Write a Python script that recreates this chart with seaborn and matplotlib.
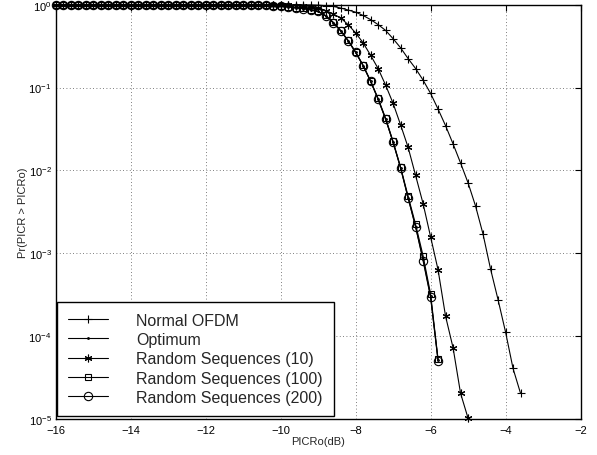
import matplotlib
matplotlib.use("Agg")
import matplotlib.pyplot as plt
import seaborn as sns
import numpy as np
import pandas as pd

# ---- data (log10 of probability) ----
x_normal = [-16.0, -15.8, -15.6, -15.4, -15.2, -15.0, -14.8, -14.6, -14.4, -14.2,
            -14.0, -13.8, -13.6, -13.4, -13.2, -13.0, -12.8, -12.6, -12.4, -12.2,
            -12.0, -11.8, -11.6, -11.4, -11.2, -11.0, -10.8, -10.6, -10.4, -10.2,
            -10.0, -9.8, -9.6, -9.4, -9.2, -9.0, -8.8, -8.6, -8.4, -8.2,
            -8.0, -7.8, -7.6, -7.4, -7.2, -7.0, -6.8, -6.6, -6.4, -6.2,
            -6.0, -5.8, -5.6, -5.4, -5.2, -5.0, -4.8, -4.6, -4.4, -4.2,
            -4.0, -3.8, -3.6]
logp_normal = [0, 0, 0, 0, 0, 0, 0, 0, 0, 0,
               0, 0, 0, 0, 0, 0, 0, 0, 0, 0,
               0, 0, 0, 0, 0, 0, 0, 0, 0, 0,
               0, 0, -0.001, -0.002, -0.003, -0.006, -0.012, -0.02, -0.04, -0.064,
               -0.09, -0.13, -0.18, -0.24, -0.31, -0.41, -0.52, -0.65, -0.77, -0.91,
               -1.07, -1.26, -1.46, -1.68, -1.91, -2.15, -2.43, -2.77, -3.19, -3.56,
               -3.95, -4.39, -4.69]

x_rand10 = x_normal[:56]
logp_rand10 = [0, 0, 0, 0, 0, 0, 0, 0, 0, 0,
               0, 0, 0, 0, 0, 0, 0, 0, 0, 0,
               0, 0, 0, 0, 0, 0, 0, -0.001, -0.002, -0.003,
               -0.005, -0.008, -0.012, -0.02, -0.03, -0.045, -0.07, -0.11, -0.16, -0.24,
               -0.34, -0.46, -0.61, -0.77, -0.97, -1.19, -1.45, -1.72, -2.06, -2.40,
               -2.80, -3.20, -3.76, -4.14, -4.69, -4.99]

x_rand100 = x_normal[:52]
logp_rand100 = [0, 0, 0, 0, 0, 0, 0, 0, 0, 0,
                0, 0, 0, 0, 0, 0, 0, 0, 0, 0,
                0, 0, 0, 0, -0.001, -0.002, -0.003, -0.005, -0.008, -0.012,
                -0.018, -0.025, -0.035, -0.045, -0.06, -0.08, -0.13, -0.21, -0.31, -0.43,
                -0.57, -0.73, -0.92, -1.13, -1.37, -1.65, -1.96, -2.31, -2.65, -3.03,
                -3.49, -4.28]

x_rand200 = x_normal[:52]
logp_rand200 = [0, 0, 0, 0, 0, 0, 0, 0, 0, 0,
                0, 0, 0, 0, 0, 0, 0, 0, 0, 0,
                0, 0, 0, 0, -0.001, -0.002, -0.003, -0.005, -0.008, -0.012,
                -0.018, -0.025, -0.036, -0.046, -0.062, -0.082, -0.135, -0.215, -0.315, -0.435,
                -0.575, -0.735, -0.925, -1.14, -1.38, -1.66, -1.97, -2.33, -2.68, -3.09,
                -3.53, -4.30]

x_opt = x_normal[:52]
logp_opt = [0, 0, 0, 0, 0, 0, 0, 0, 0, 0,
            0, 0, 0, 0, 0, 0, 0, 0, 0, 0,
            0, 0, 0, 0, -0.001, -0.002, -0.003, -0.005, -0.008, -0.012,
            -0.018, -0.025, -0.036, -0.046, -0.062, -0.082, -0.135, -0.215, -0.315, -0.435,
            -0.575, -0.735, -0.925, -1.14, -1.38, -1.66, -1.97, -2.33, -2.68, -3.07,
            -3.52, -4.29]

labels = ["Normal OFDM", "Optimum", "Random Sequences (10)",
          "Random Sequences (100)", "Random Sequences (200)"]
xticks = [-16, -14, -12, -10, -8, -6, -4, -2]

# ---- style ----
sns.set_style("white")
plt.rcParams["font.family"] = ["Liberation Sans", "DejaVu Sans"]

fig = plt.figure(figsize=(5.97, 4.56), dpi=100)
ax = fig.add_axes([0.0933, 0.0789, 0.8791, 0.9086])

asterisk = (6, 2, 0)
series = [
    (x_normal, logp_normal, "+", 6, labels[0]),
    (x_opt, logp_opt, ".", 2.5, labels[1]),
    (x_rand10, logp_rand10, asterisk, 5.5, labels[2]),
    (x_rand100, logp_rand100, "s", 4.8, labels[3]),
    (x_rand200, logp_rand200, "o", 6, labels[4]),
]

for xs, lp, mk, ms, lab in series:
    df = pd.DataFrame({"x": xs, "p": np.power(10.0, lp)})
    sns.lineplot(data=df, x="x", y="p", ax=ax, color="k", linewidth=0.8,
                 marker=mk, markersize=ms, markerfacecolor="none",
                 markeredgecolor="k", markeredgewidth=0.8, label=lab,
                 clip_on=False, zorder=3)

ax.set_yscale("log")
ax.set_xlim(-16, -2)
ax.set_ylim(1e-5, 1)
ax.set_xticks(xticks)
ax.set_yticks([1e-5, 1e-4, 1e-3, 1e-2, 1e-1, 1])
ax.yaxis.set_minor_locator(matplotlib.ticker.NullLocator())

ax.grid(True, which="major", linestyle=(0, (1, 3)), color="#555555", linewidth=0.6)
for s in ax.spines.values():
    s.set_color("k")
    s.set_linewidth(1.0)
ax.tick_params(axis="both", which="major", direction="in", length=4, width=0.8,
               top=True, right=True, labelsize=8, colors="k")
ax.tick_params(axis="x", pad=4)
ax.tick_params(axis="y", pad=3)

ax.set_xlabel("PICRo(dB)", fontsize=8, labelpad=1)
ax.set_ylabel("Pr(PICR > PICRo)", fontsize=8, labelpad=0)

leg = ax.legend(loc="lower left", bbox_to_anchor=(0.003, 0.008), borderaxespad=0,
                fontsize=11.5, frameon=True, fancybox=False, framealpha=1,
                edgecolor="k", handlelength=2.5, handletextpad=1.75,
                labelspacing=0.27, borderpad=0.68)
leg.get_frame().set_linewidth(1.0)

fig.savefig("out.png", dpi=100)
